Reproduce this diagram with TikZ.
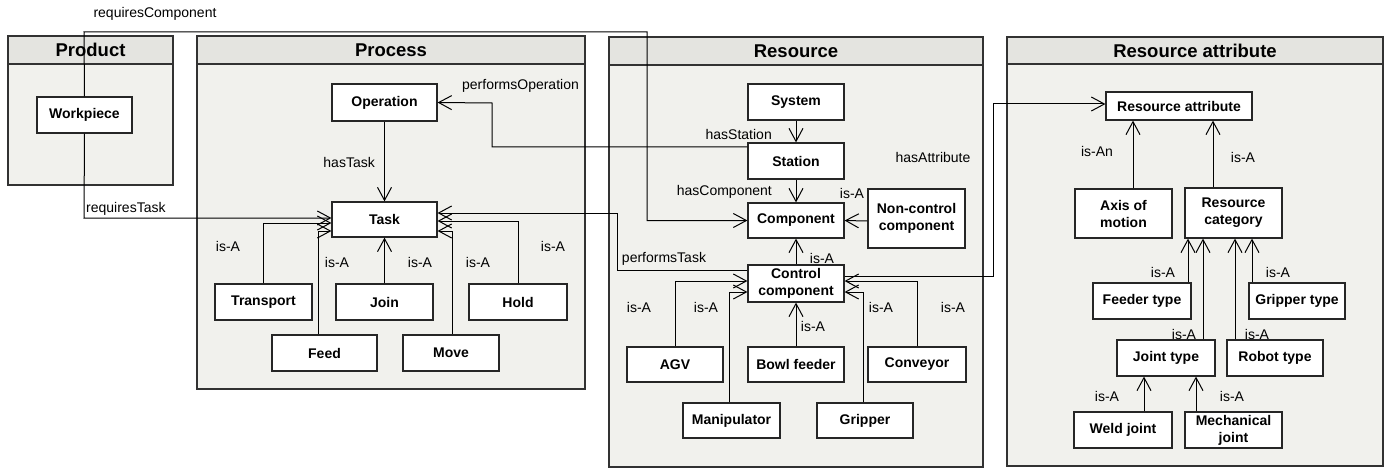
\documentclass[tikz,border=0pt]{standalone}
\usepackage{fontspec}
\setmainfont{Liberation Sans}
\usetikzlibrary{arrows.meta}
\definecolor{panelfill}{RGB}{241,241,237}
\definecolor{headfill}{RGB}{228,228,224}
\definecolor{panelline}{RGB}{50,50,50}
\tikzset{
 cls/.style={draw=black!85, fill=white, line width=1.2pt, font=\bfseries\fontsize{14}{17}\selectfont, align=center, inner sep=0pt},
 sz/.style 2 args={minimum width=#1pt, minimum height=#2pt},
 lbl/.style={font=\fontsize{14}{17}\selectfont, inner sep=0pt},
 ttl/.style={font=\bfseries\fontsize{18.5}{22}\selectfont, inner sep=0pt},
 conn/.style={draw=black, line width=1pt, -{Straight Barb[length=13pt,width=14pt]}},
 panel/.style={draw=panelline, line width=1.5pt, fill=panelfill},
 head/.style={draw=panelline, line width=1.5pt, fill=headfill},
}
\begin{document}
\begin{tikzpicture}[x=1pt,y=-1pt]
\useasboundingbox (0,0) rectangle (1390,468);
% panels
\draw[panel] (8,36) rectangle (173,185);
\draw[head] (8,36) rectangle (173,64);
\node[ttl] (tProduct) at (90.5,50) {Product};
\draw[panel] (197,36) rectangle (585,389);
\draw[head] (197,36) rectangle (585,64);
\node[ttl] (tProcess) at (391,50) {Process};
\draw[panel] (609,37) rectangle (983,467);
\draw[head] (609,37) rectangle (983,65);
\node[ttl] (tResource) at (796,51) {Resource};
\draw[panel] (1007,37) rectangle (1383,466);
\draw[head] (1007,37) rectangle (1383,64);
\node[ttl] (tResAttr) at (1195,51) {Resource attribute};
% nodes
\node[cls, sz={95}{36}] (wp) at (84.5,115) {Workpiece};
\node[cls, sz={105}{37}] (op) at (384.5,102.5) {Operation};
\node[cls, sz={105}{35}] (task) at (384.5,219.5) {Task};
\node[cls, sz={97}{36}] (transport) at (263.5,302) {Transport};
\node[cls, sz={97}{36}] (join) at (384.5,302) {Join};
\node[cls, sz={98}{36}] (hold) at (518,302) {Hold};
\node[cls, sz={105}{36}] (feed) at (324.5,353) {Feed};
\node[cls, sz={96}{36}] (move) at (451,353) {Move};
\node[cls, sz={96}{36}] (system) at (796,102) {System};
\node[cls, sz={96}{36}] (station) at (796,161) {Station};
\node[cls, sz={96}{35}] (comp) at (796,220.5) {Component};
\node[cls, sz={97}{59}] (noncc) at (916.5,218.5) {Non-control\\component};
\node[cls, sz={96}{37}] (cc) at (796,283.5) {Control\\component};
\node[cls, sz={96}{35}] (agv) at (675,364.5) {AGV};
\node[cls, sz={96}{35}] (bowl) at (796,364.5) {Bowl feeder};
\node[cls, sz={98}{35}] (conv) at (917,364.5) {Conveyor};
\node[cls, sz={97}{35}] (manip) at (731.5,420.5) {Manipulator};
\node[cls, sz={96}{35}] (grip) at (865,420.5) {Gripper};
\node[cls, sz={146}{28}] (ra) at (1179,106) {Resource attribute};
\node[cls, sz={97}{49}] (axis) at (1123.5,213.5) {Axis of\\motion};
\node[cls, sz={97}{50}] (rcat) at (1233.5,213) {Resource\\category};
\node[cls, sz={98}{36}] (feedt) at (1142,301) {Feeder type};
\node[cls, sz={96}{36}] (gript) at (1297,301) {Gripper type};
\node[cls, sz={98}{36}] (joint) at (1166,358) {Joint type};
\node[cls, sz={96}{36}] (robot) at (1275,358) {Robot type};
\node[cls, sz={98}{36}] (weld) at (1123,430) {Weld joint};
\node[cls, sz={97}{36}] (mech) at (1233.5,430) {Mechanical\\joint};
% connectors
\draw[conn] (wp.north) -- (84,32) -- (647,32) -- (647,220.5) -- (comp.west);
\draw[conn] (wp.south) -- (84,218) -- ([yshift=1.5pt]task.west);
\draw[conn] (op.south) -- (task.north);
\draw[conn] ([yshift=14pt]station.west) -- (492,147) -- (492,103) -- (op.east);
\draw[conn] (transport.north) -- (263.5,223) -- ([yshift=-3.5pt]task.west);
\draw[conn] ([xshift=-6.5pt]feed.north) -- (318,231) -- ([yshift=-11.5pt]task.west);
\draw[conn] (join.north) -- (task.south);
\draw[conn] ([xshift=1pt]move.north) -- (452,231) -- ([yshift=-11.5pt]task.east);
\draw[conn] (hold.north) -- (518,221) -- ([yshift=-1.5pt]task.east);
\draw[conn] ([yshift=13.5pt]cc.west) -- (617,270) -- (617,213) -- ([yshift=6.5pt]task.east);
\draw[conn] (system.south) -- (station.north);
\draw[conn] (station.south) -- (comp.north);
\draw[conn] ([yshift=-2.5pt]noncc.west) -- (comp.east);
\draw[conn] (cc.north) -- (comp.south);
\draw[conn] (agv.north) -- (675,281) -- ([yshift=2.5pt]cc.west);
\draw[conn] ([xshift=-2.5pt]manip.north) -- (729,292) -- ([yshift=-8.5pt]cc.west);
\draw[conn] (bowl.north) -- (cc.south);
\draw[conn] ([xshift=-2pt]grip.north) -- (863,292) -- ([yshift=-8.5pt]cc.east);
\draw[conn] (conv.north) -- (917,281) -- ([yshift=2.5pt]cc.east);
\draw[conn] ([yshift=7.5pt]cc.east) -- (993,276) -- (993,104) -- ([yshift=2pt]ra.west);
\draw[conn] ([xshift=9.5pt]axis.north) -- ([xshift=9.5pt]axis.north |- ra.south);
\draw[conn] ([xshift=-20.5pt]rcat.north) -- ([xshift=-20.5pt]rcat.north |- ra.south);
\draw[conn] ([xshift=46pt]feedt.north) -- ([xshift=46pt]feedt.north |- rcat.south);
\draw[conn] ([xshift=37pt]joint.north) -- ([xshift=37pt]joint.north |- rcat.south);
\draw[conn] ([xshift=-40pt]robot.north) -- ([xshift=-40pt]robot.north |- rcat.south);
\draw[conn] ([xshift=-45pt]gript.north) -- ([xshift=-45pt]gript.north |- rcat.south);
\draw[conn] ([xshift=21pt]weld.north) -- ([xshift=21pt]weld.north |- joint.south);
\draw[conn] ([xshift=-37.5pt]mech.north) -- ([xshift=-37.5pt]mech.north |- joint.south);
% labels
\node[lbl] (lReqComp) at (155,14) {requiresComponent};
\node[lbl, anchor=west] (lReqTask) at (86,209) {requiresTask};
\node[lbl, anchor=east] (lHasTask) at (375,162) {hasTask};
\node[lbl] (lPerfOp) at (520.5,86) {performsOperation};
\node[lbl] (l1) at (228,246) {is-A};
\node[lbl] (l2) at (337,262) {is-A};
\node[lbl] (l3) at (420,262) {is-A};
\node[lbl] (l4) at (478,262) {is-A};
\node[lbl] (l5) at (553,246) {is-A};
\node[lbl, anchor=east] (lHasSt) at (772,134) {hasStation};
\node[lbl, anchor=east] (lHasComp) at (772,192) {hasComponent};
\node[lbl] (lHasAttr) at (933,157) {hasAttribute};
\node[lbl] (l6) at (852,193) {is-A};
\node[lbl] (l7) at (822,258) {is-A};
\node[lbl] (lPerfTask) at (664,259) {performsTask};
\node[lbl] (l8) at (639,307) {is-A};
\node[lbl] (l9) at (706,307) {is-A};
\node[lbl] (l10) at (813,326) {is-A};
\node[lbl] (l11) at (881,307) {is-A};
\node[lbl] (l12) at (953,307) {is-A};
\node[lbl] (l13) at (1097,151) {is-An};
\node[lbl] (l14) at (1243,157) {is-A};
\node[lbl] (l15) at (1163,272) {is-A};
\node[lbl] (l16) at (1278,272) {is-A};
\node[lbl] (l17) at (1184,334) {is-A};
\node[lbl] (l18) at (1257,334) {is-A};
\node[lbl] (l19) at (1107,396) {is-A};
\node[lbl] (l20) at (1232,396) {is-A};
\end{tikzpicture}
\end{document}
